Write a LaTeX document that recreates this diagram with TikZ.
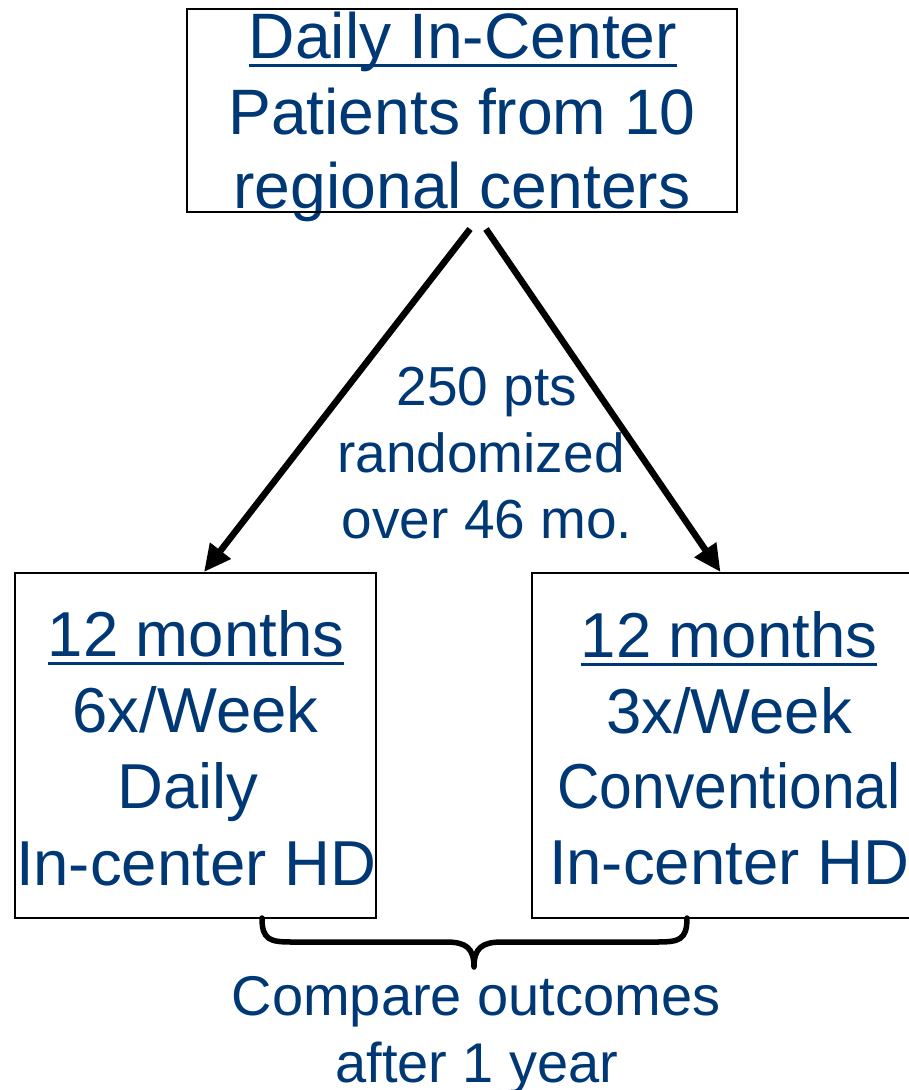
\documentclass[tikz,border=0pt]{standalone}
\usepackage{fontspec}
\usepackage{graphicx}
\setmainfont{Liberation Sans}
\usetikzlibrary{arrows.meta}
\definecolor{txtblue}{RGB}{0,56,118}
\newcommand\myul[1]{\setbox0\hbox{#1}\rlap{\rule[-9pt]{\wd0}{3pt}}\box0}
\begin{document}
\begin{tikzpicture}[x=1pt,y=-1pt,
  box/.style={draw=black,line width=2pt,inner sep=0pt},
  big/.style={text=txtblue,font=\fontsize{63.5}{75}\selectfont,anchor=base,inner sep=0pt},
  mid/.style={text=txtblue,font=\fontsize{55}{66}\selectfont,anchor=base,inner sep=0pt},
  arr/.style={line width=6.5pt,-{Triangle[length=27pt,width=25pt]}},
  brace/.style={line width=5.5pt,line join=round,line cap=round},
]
\clip (0,0) rectangle (909,1090);
% texts
\node[big,font=\fontsize{64.2}{75}\selectfont] (t1) at (463,58) {\myul{Daily In-Center}};
\node[big,font=\fontsize{64.2}{75}\selectfont] (t2) at (462,134) {Patients from 10};
\node[big,font=\fontsize{64.2}{75}\selectfont] (t3) at (462,208) {regional centers};
\node[big] (l1) at (196,656) {\myul{12 months}};
\node[big] (l2) at (195.5,732) {6x/Week};
\node[big] (l3) at (188,808) {Daily};
\node[big] (l4) at (196,885) {In-center HD};
\node[big] (r1) at (729,657) {\myul{12 months}};
\node[big] (r2) at (729,733) {3x/Week};
\node[big] (r3) at (729,808) {\scalebox{0.925}[1]{Conventional}};
\node[big] (r4) at (729,884) {In-center HD};
\node[mid] (m1) at (487,405) {250 pts};
\node[mid] (m2) at (481,472) {randomized};
\node[mid] (m3) at (487,538) {over 46 mo.};
\node[mid,font=\fontsize{56}{66}\selectfont] (c1) at (476,1015) {Compare outcomes};
\node[mid,font=\fontsize{56}{66}\selectfont] (c2) at (477,1082) {after 1 year};
% boxes
\node[box,minimum width=361pt,minimum height=345pt] (leftbox) at (195.5,745.5) {};
\node[box,minimum width=383pt,minimum height=345pt] (rightbox) at (723.5,745.5) {};
\node[box,minimum width=550pt,minimum height=203pt] (topbox) at (462,110.5) {};
% arrows
\coordinate (s1) at (470,229);
\coordinate (s2) at (486,229);
\draw[arr] (s1) -- ([xshift=8.5pt]leftbox.north);
\draw[arr] (s2) -- ([xshift=-3pt]rightbox.north);
% brace
\coordinate (bl) at (262,918);
\coordinate (br) at (687,918);
\coordinate (bt) at (474,967);
\draw[brace] (bl) .. controls (262,940) and (270,942) .. (292,942) -- (446,942)
  .. controls (466,942) and (474,948) .. (bt)
  .. controls (474,948) and (482,942) .. (502,942) -- (657,942)
  .. controls (679,942) and (687,940) .. (br);
\end{tikzpicture}
\end{document}
